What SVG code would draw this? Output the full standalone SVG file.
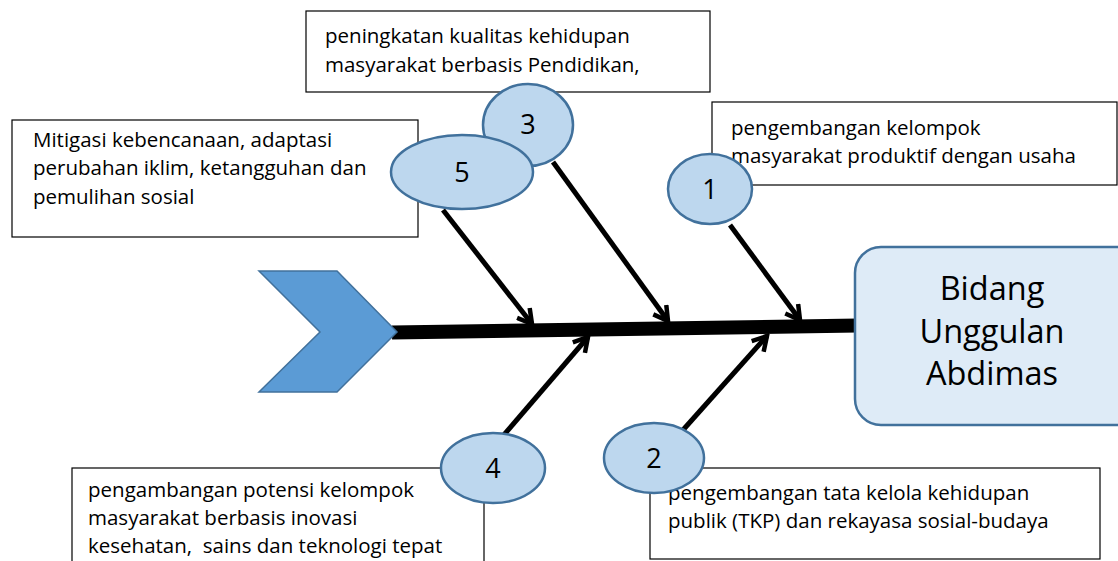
<svg xmlns="http://www.w3.org/2000/svg" width="1118" height="561" viewBox="0 0 1118 561">
<defs>
<style>
.box{fill:#fff;stroke:#000;stroke-width:1.2}
.t{font-family:"Open Sans","Liberation Sans",sans-serif;font-size:20.5px;fill:#000;white-space:pre}
.num{font-family:"Open Sans","Liberation Sans",sans-serif;font-size:27px;fill:#000;text-anchor:middle}
.ell{fill:#BDD7EE;stroke:#41719C;stroke-width:2.5}
.arr{stroke:#000;stroke-width:5;fill:none;marker-end:url(#ah)}
.big{font-family:"Open Sans","Liberation Sans",sans-serif;font-size:32.5px;fill:#000;text-anchor:middle}
</style>
<marker id="ah" viewBox="0 0 20 20" markerWidth="20" markerHeight="20" refX="17" refY="10" orient="auto" markerUnits="userSpaceOnUse">
<path d="M3,2 L17,10 L3,18" fill="none" stroke="#000" stroke-width="4.5" stroke-linejoin="miter"/>
</marker>
</defs>
<rect width="1118" height="561" fill="#fff"/>

<g id="box-top">
<rect class="box" x="306" y="11" width="404" height="81"/>
<text class="t" x="325" y="43">peningkatan kualitas kehidupan</text>
<text class="t" x="325" y="72">masyarakat berbasis Pendidikan,</text>
</g>
<g id="box-1">
<rect class="box" x="712" y="102" width="405" height="83"/>
<text class="t" x="731" y="135">pengembangan kelompok</text>
<text class="t" x="731" y="163">masyarakat produktif dengan usaha</text>
</g>
<g id="box-5">
<rect class="box" x="12" y="120" width="406" height="117"/>
<text class="t" x="33" y="147">Mitigasi kebencanaan, adaptasi</text>
<text class="t" x="33" y="175">perubahan iklim, ketangguhan dan</text>
<text class="t" x="33" y="204">pemulihan sosial</text>
</g>
<g id="box-4">
<rect class="box" x="72" y="468" width="412" height="100"/>
<text class="t" x="88" y="497">pengambangan potensi kelompok</text>
<text class="t" x="88" y="525">masyarakat berbasis inovasi</text>
<text class="t" x="88" y="553" xml:space="preserve">kesehatan,  sains dan teknologi tepat</text>
</g>
<g id="box-2">
<rect class="box" x="650" y="468" width="450" height="91"/>
<text class="t" x="668" y="500">pengembangan tata kelola kehidupan</text>
<text class="t" x="668" y="528">publik (TKP) dan rekayasa sosial-budaya</text>
</g>

<g id="connectors">
<line x1="392" y1="332.5" x2="858" y2="325.5" stroke="#000" stroke-width="14"/>
<line class="arr" x1="443" y1="210" x2="532" y2="324"/>
<line class="arr" x1="553" y1="162" x2="668" y2="321"/>
<line class="arr" x1="730" y1="225" x2="800" y2="320"/>
<line class="arr" x1="503" y1="436" x2="588" y2="337"/>
<line class="arr" x1="683" y1="430" x2="767" y2="336"/>
</g>

<g id="tail">
<polygon points="259,271 337,271 397,332 337,392 259,392 320,332" fill="#5B9BD5" stroke="#41719C" stroke-width="1.5"/>
</g>

<g id="head">
<rect x="855" y="247" width="290" height="178" rx="26" ry="26" fill="#DEEBF7" stroke="#41719C" stroke-width="2.5"/>
<text class="big" x="992" y="300">Bidang</text>
<text class="big" x="992" y="343">Unggulan</text>
<text class="big" x="992" y="385">Abdimas</text>
</g>

<g id="n3"><ellipse class="ell" cx="528" cy="125" rx="45" ry="41"/><text class="num" x="528" y="134">3</text></g>
<g id="n5"><ellipse class="ell" cx="462" cy="172" rx="71" ry="37"/><text class="num" x="462" y="182">5</text></g>
<g id="n1"><ellipse class="ell" cx="710" cy="189" rx="42" ry="35"/><text class="num" x="710" y="199">1</text></g>
<g id="n4"><ellipse class="ell" cx="493" cy="468" rx="52" ry="35"/><text class="num" x="493" y="478">4</text></g>
<g id="n2"><ellipse class="ell" cx="654" cy="458" rx="50" ry="35"/><text class="num" x="654" y="468">2</text></g>
</svg>
